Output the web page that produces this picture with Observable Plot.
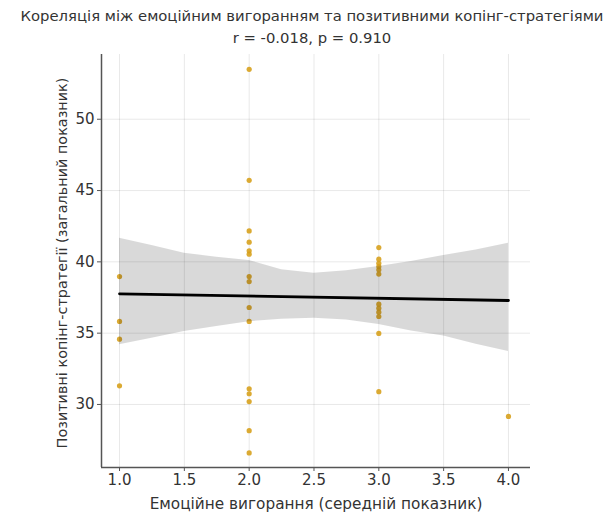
<!DOCTYPE html>
<html>
<head>
<meta charset="utf-8">
<script src="https://cdn.jsdelivr.net/npm/d3@7"></script>
<script src="https://cdn.jsdelivr.net/npm/@observablehq/plot@0.6"></script>
<style>
  body { margin: 0; background: #fff; font-family: "DejaVu Sans", sans-serif; }
  #title { width: 616px; height: 46px; box-sizing: border-box; padding: 5px 0 0 8px; text-align: center; color: #333; font-size: 14.8px; line-height: 22px; }
  #chart svg { display: block; overflow: visible; }
</style>
</head>
<body>
<div id="title">
  <div>Кореляція між емоційним вигоранням та позитивними копінг-стратегіями</div>
  <div>r = -0.018, p = 0.910</div>
</div>
<div id="chart"></div>
<script>
// Scatter data (burnout score, positive coping score)
const burnout = [1, 1, 1, 1,
  2, 2, 2, 2, 2, 2, 2, 2, 2, 2, 2, 2, 2, 2, 2,
  3, 3, 3, 3, 3, 3, 3, 3, 3, 3, 3, 3,
  4];
const coping = [38.97, 35.82, 34.58, 31.31,
  53.5, 45.72, 42.17, 41.38, 40.77, 40.54, 38.97, 38.62, 36.8, 35.82, 31.1, 30.75, 30.2, 28.16, 26.6,
  41.0, 40.19, 39.9, 39.67, 39.44, 39.14, 37.03, 36.75, 36.47, 36.17, 34.98, 30.9,
  29.16];

// Fitted regression line
const fitX = [1, 4];
const fitY = [37.76, 37.29];

// 95% confidence band
const bandX    = [1, 1.25, 1.5, 1.75, 2, 2.25, 2.5, 2.75, 3, 3.25, 3.5, 3.75, 4];
const bandLow  = [34.18, 34.65, 35.12, 35.47, 35.8, 35.98, 36.05, 35.93, 35.6, 35.16, 34.8, 34.23, 33.72];
const bandHigh = [41.66, 41.15, 40.6, 40.33, 40.1, 39.44, 39.2, 39.37, 39.67, 40.02, 40.44, 40.84, 41.3];

// Axes
const xTicks = [1.0, 1.5, 2.0, 2.5, 3.0, 3.5, 4.0];
const yTicks = [30, 35, 40, 45, 50];
const xDomain = [0.861, 4.17];
const yDomain = [25.58, 54.54];
const xLabel = "Емоційне вигорання (середній показник)";
const yLabel = "Позитивні копінг-стратегії (загальний показник)";

const points = burnout.map((b, i) => ({x: b, y: coping[i]}));
const fit = fitX.map((x, i) => ({x, y: fitY[i]}));
const band = bandX.map((x, i) => ({x, lo: bandLow[i], hi: bandHigh[i]}));

const chart = Plot.plot({
  width: 616,
  height: 468,
  marginLeft: 101,
  marginRight: 86,
  marginTop: 8,
  marginBottom: 47,
  style: {fontFamily: "DejaVu Sans, sans-serif", fontSize: "15px", color: "#333", background: "#fff", overflow: "visible"},
  x: {domain: xDomain},
  y: {domain: yDomain},
  marks: [
    Plot.gridX(xTicks, {stroke: "#000", strokeOpacity: 0.09, strokeWidth: 1}),
    Plot.gridY(yTicks, {stroke: "#000", strokeOpacity: 0.09, strokeWidth: 1}),
    Plot.dot(points, {x: "x", y: "y", r: 2.6, fill: "#d69e17", fillOpacity: 0.88, stroke: "none"}),
    Plot.areaY(band, {x: "x", y1: "lo", y2: "hi", fill: "#000", fillOpacity: 0.15}),
    Plot.line(fit, {x: "x", y: "y", stroke: "#000", strokeWidth: 2.8}),
    Plot.ruleX([xDomain[0]], {stroke: "#555", strokeWidth: 1.5}),
    Plot.ruleY([yDomain[0]], {stroke: "#555", strokeWidth: 1.5}),
    Plot.axisX({ticks: xTicks, tickFormat: d => d.toFixed(1), tickSize: 4, tickPadding: 3, label: null, stroke: "#555", fontSize: 15}),
    Plot.axisY({ticks: yTicks, tickSize: 4, tickPadding: 3, label: null, stroke: "#555", fontSize: 15}),
    Plot.text([xLabel], {frameAnchor: "bottom", dy: 41, fill: "#333", fontSize: 15.3}),
    Plot.text([yLabel], {frameAnchor: "left", textAnchor: "middle", rotate: -90, dx: -39, dy: 2, fill: "#333", fontSize: 14.4})
  ]
});
document.getElementById("chart").appendChild(chart);
</script>
</body>
</html>
